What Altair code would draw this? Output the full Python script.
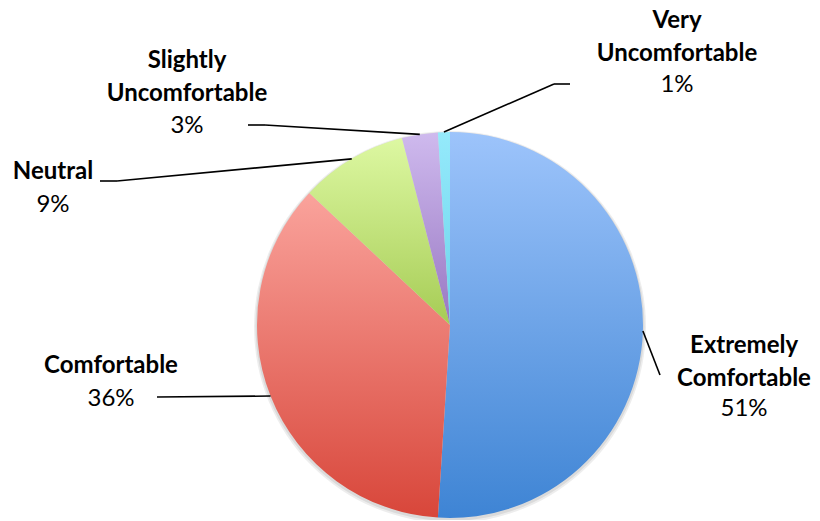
import altair as alt
import pandas as pd

categories = ["Extremely Comfortable", "Comfortable", "Neutral", "Slightly Uncomfortable", "Very Uncomfortable"]
values = [51, 36, 9, 3, 1]
pct_labels = ["51%", "36%", "9%", "3%", "1%"]

df = pd.DataFrame({"cat": categories, "value": values, "pct": pct_labels, "idx": list(range(len(categories)))})

# layout (chart coordinates; page = chart + 8)
OFF = 8
CX, CY, R = 450 - OFF, 325 - OFF, 193

grads = {
    "Extremely Comfortable": ("#9DC4FB", "#3E84D4"),
    "Comfortable": ("#FAA39C", "#D8463A"),
    "Neutral": ("#DDF8A2", "#A6CC55"),
    "Slightly Uncomfortable": ("#CFBAEE", "#9877C2"),
    "Very Uncomfortable": ("#95EAFB", "#6CD3EC"),
}

# label layout: x center, name baseline, pct baseline, leader elbow points (page coords)
label_layout = {
    "Extremely Comfortable": dict(x=744, yn=353, yp=416, pts=[(660, 375)]),
    "Comfortable": dict(x=111, yn=373, yp=406, pts=[(157, 397)]),
    "Neutral": dict(x=53, yn=179, yp=212, pts=[(117, 181), (100, 181)]),
    "Slightly Uncomfortable": dict(x=187, yn=68, yp=133, pts=[(265, 125), (248, 125)]),
    "Very Uncomfortable": dict(x=677, yn=28, yp=92, pts=[(554, 84), (570, 84)]),
}

FONT = "Lato"
FS = 24

base = alt.Chart(df).transform_window(
    cum="sum(value)", sort=[alt.SortField("idx")], frame=[None, 0]
).transform_calculate(
    start="datum.cum - datum.value",
    end="datum.cum",
    mid="(datum.cum - datum.value/2) / 100 * 2 * PI",
).transform_calculate(
    ex=f"{CX} + {R} * sin(datum.mid)",
    ey=f"{CY} - {R} * cos(datum.mid)",
)

theta_scale = alt.Scale(domain=[0, 100], range=[0, 6.283185307179586])

layers = []

shadow = alt.Chart(alt.Data(values=[{"a": 1}])).mark_arc(
    theta=0, theta2=6.2832, outerRadius=R + 3, color="#000000", opacity=0.07
).encode(x=alt.value(CX), y=alt.value(CY + 2))
shadow2 = alt.Chart(alt.Data(values=[{"a": 1}])).mark_arc(
    theta=0, theta2=6.2832, outerRadius=R + 1.5, color="#000000", opacity=0.08
).encode(x=alt.value(CX), y=alt.value(CY + 1.5))
layers += [shadow, shadow2]

for cat in categories:
    c0, c1 = grads[cat]
    g = alt.Gradient(
        gradient="linear",
        stops=[alt.GradientStop(color=c0, offset=0), alt.GradientStop(color=c1, offset=1)],
        x1=0, x2=0, y1=0, y2=1,
    )
    layers.append(
        base.transform_filter(alt.datum.cat == cat).mark_arc(outerRadius=R, fill=g).encode(
            theta=alt.Theta("start:Q", scale=theta_scale),
            theta2="end:Q",
            x=alt.value(CX), y=alt.value(CY),
        )
    )

for cat in categories:
    lay = label_layout[cat]
    sub = base.transform_filter(alt.datum.cat == cat)
    pts = lay["pts"]
    # first leader segment from slice edge (data-driven) to elbow
    layers.append(
        sub.mark_rule(color="#000000", strokeWidth=1.6).encode(
            x=alt.X("ex:Q", scale=None), y=alt.Y("ey:Q", scale=None),
            x2=alt.value(pts[0][0] - OFF), y2=alt.value(pts[0][1] - OFF),
        )
    )
    for a, b in zip(pts[:-1], pts[1:]):
        layers.append(
            sub.mark_rule(color="#000000", strokeWidth=1.6).encode(
                x=alt.value(a[0] - OFF), y=alt.value(a[1] - OFF),
                x2=alt.value(b[0] - OFF), y2=alt.value(b[1] - OFF),
            )
        )
    layers.append(
        sub.mark_text(font=FONT, fontSize=FS, fontWeight="bold", align="center",
                      baseline="alphabetic", lineBreak=" ", lineHeight=33, color="#000000").encode(
            text="cat:N", x=alt.value(lay["x"] - OFF), y=alt.value(lay["yn"] - OFF)
        )
    )
    layers.append(
        sub.mark_text(font=FONT, fontSize=FS, align="center",
                      baseline="alphabetic", color="#000000").encode(
            text="pct:N", x=alt.value(lay["x"] - OFF), y=alt.value(lay["yp"] - OFF)
        )
    )

chart = alt.layer(*layers).properties(
    width=804, height=512, autosize=alt.AutoSizeParams(type="none"), padding=0,
    background="#FFFFFF",
).configure_view(stroke=None)

chart.save("out.html", embed_options={"renderer": "svg", "actions": False})
